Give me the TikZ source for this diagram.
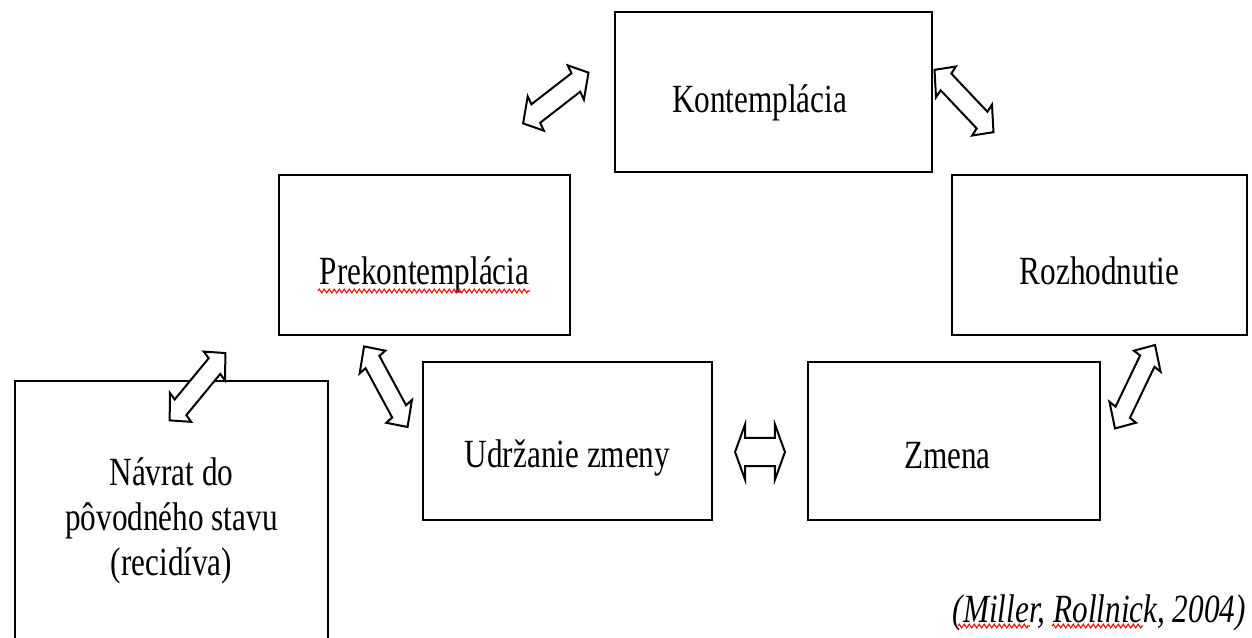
\documentclass[tikz,border=0pt]{standalone}
\usepackage{fontspec}
\setmainfont{Liberation Serif}[FakeStretch=0.78]
\usetikzlibrary{decorations.pathmorphing}
\tikzset{
  framebox/.style={draw, line width=1.5pt, inner sep=0pt,
    font=\fontsize{30pt}{33.5pt}\selectfont},
  stagebox/.style={framebox, text height=#1, text depth=0pt},
  blockarrow/.style={draw, fill=white, line width=1.5pt, line join=miter},
  squiggle/.style={red, line width=0.8pt, decorate,
    decoration={zigzag, segment length=3.75pt, amplitude=1.4pt}},
}
\newcommand\diagarrow[3]{%
  \begin{scope}[shift={(#1,#2)}, xscale=0.78, rotate=#3]
    \draw[blockarrow] (-49,0) -- (-30,-20) -- (-30,-10.8) -- (30,-10.8)
      -- (30,-20) -- (49,0) -- (30,20) -- (30,10.8) -- (-30,10.8)
      -- (-30,20) -- cycle;
  \end{scope}}
\begin{document}
\begin{tikzpicture}[x=0.75pt, y=-0.75pt]
\useasboundingbox (0,0) rectangle (1252,637);

% boxes
\node[stagebox=30pt, minimum width=237.75pt, minimum height=120pt] (kont) at (773.5,92) {Kontemplácia\hspace*{21pt}};
\node[stagebox=43.5pt, minimum width=218.25pt, minimum height=120pt] (prek) at (424.5,255) {Prekontemplácia};
\node[stagebox=43.5pt, minimum width=221.25pt, minimum height=120pt] (rozh) at (1099.5,255) {Rozhodnutie};
\node[stagebox=39pt, minimum width=216.75pt, minimum height=118.5pt] (udrz) at (567.5,441) {Udržanie zmeny};
\node[stagebox=40.5pt, minimum width=219pt, minimum height=118.5pt] (zmena) at (954,441) {Zmena\hspace*{9.75pt}};
\node[framebox, align=center, anchor=north, minimum width=234.75pt, minimum height=210pt] (navrat) at (171.5,380) {Návrat do\\pôvodného stavu\\(recidíva)};

% double block arrows
\diagarrow{555.8}{98}{31.2}
\diagarrow{964}{101}{-39.5}
\diagarrow{197.5}{386.7}{43.4}
\diagarrow{385.8}{386.7}{-55.3}
\diagarrow{1135}{386.7}{58.4}
\begin{scope}[shift={(760,452)}, xscale=0.78]
  \draw[blockarrow] (-32,0) -- (-19.2,-27.5) -- (-19.2,-14.2) -- (19.2,-14.2)
    -- (19.2,-27.5) -- (32,0) -- (19.2,27.5) -- (19.2,14.2) -- (-19.2,14.2)
    -- (-19.2,27.5) -- cycle;
\end{scope}

% citation
\node[font=\itshape\fontsize{30pt}{33.5pt}\selectfont, anchor=base east, inner sep=0pt] (cite) at (1246,622) {(Miller, Rollnick, 2004)};

% spell-check underlines
\draw[squiggle] (318,291) -- (530,291);
\draw[squiggle] (958,626) -- (1030,626);
\draw[squiggle] (1052,626) -- (1143,626);
\end{tikzpicture}
\end{document}
